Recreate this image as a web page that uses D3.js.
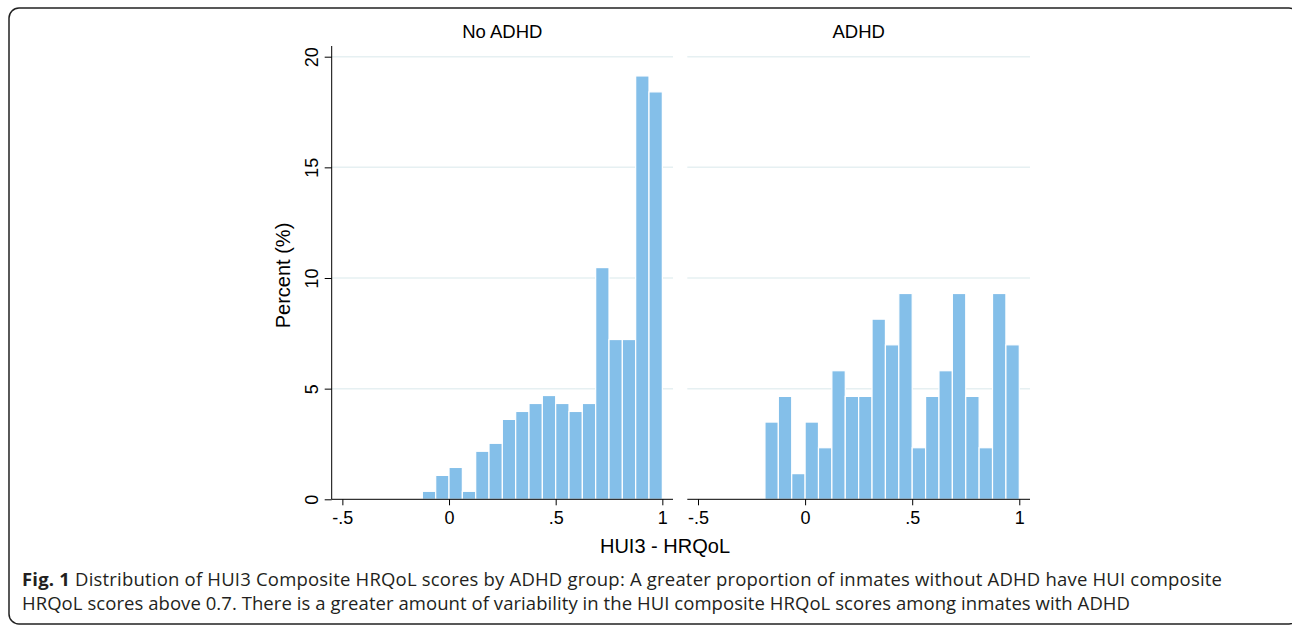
<!DOCTYPE html>
<html>
<head>
<meta charset="utf-8">
<script src="https://cdn.jsdelivr.net/npm/d3@7"></script>
<style>
  body { margin: 0; background: #fff; }
  svg { display: block; }
</style>
</head>
<body>
<div id="canvas"></div>
<script>
// panels and bins (left edge of each bin, width 0.0625)
var panels = ["No ADHD", "ADHD"];
var noAdhdBins = [-0.125, -0.0625, 0, 0.0625, 0.125, 0.1875, 0.25, 0.3125, 0.375,
                  0.4375, 0.5, 0.5625, 0.625, 0.6875, 0.75, 0.8125, 0.875, 0.9375];
var noAdhdPct = [0.36, 1.08, 1.44, 0.36, 2.17, 2.53, 3.61, 3.97, 4.33,
                 4.69, 4.33, 3.97, 4.33, 10.47, 7.22, 7.22, 19.13, 18.41];
var adhdBins = [-0.1875, -0.125, -0.0625, 0, 0.0625, 0.125, 0.1875, 0.25, 0.3125, 0.375,
                0.4375, 0.5, 0.5625, 0.625, 0.6875, 0.75, 0.8125, 0.875, 0.9375];
var adhdPct = [3.49, 4.65, 1.16, 3.49, 2.33, 5.81, 4.65, 4.65, 8.14, 6.98,
               9.30, 2.33, 4.65, 5.81, 9.30, 4.65, 2.33, 9.30, 6.98];
var binWidth = 0.0625;

var xTicks = [-0.5, 0, 0.5, 1];
var xTickLabels = ["-.5", "0", ".5", "1"];
var yTicks = [0, 5, 10, 15, 20];

var captionBold = "Fig. 1";
var captionLine1 = " Distribution of HUI3 Composite HRQoL scores by ADHD group: A greater proportion of inmates without ADHD have HUI composite";
var captionLine2 = "HRQoL scores above 0.7. There is a greater amount of variability in the HUI composite HRQoL scores among inmates with ADHD";

var W = 1292, H = 626;
var barColor = "#84bfe9", gridColor = "#e6f0f2";
var axisFont = "'Liberation Sans', Arial, Helvetica, sans-serif";

var svg = d3.select("#canvas").append("svg")
  .attr("width", W)
  .attr("height", H);

// outer frame
svg.append("rect")
  .attr("x", 9).attr("y", 8)
  .attr("width", 1290).attr("height", 616)
  .attr("rx", 10).attr("ry", 10)
  .attr("fill", "none")
  .attr("stroke", "#222")
  .attr("stroke-width", 1.5);

var y = d3.scaleLinear()
  .domain([0, 20])
  .range([499.3, 56.7]);

var panelRanges = [[331.7, 673], [687.3, 1030]];
var data = [
  { bins: noAdhdBins, pct: noAdhdPct },
  { bins: adhdBins, pct: adhdPct }
];

panels.forEach(function(name, i) {
  var x = d3.scaleLinear()
    .domain([-0.55, 1.05])
    .range(panelRanges[i]);

  var g = svg.append("g");

  // gridlines
  g.selectAll("line.grid")
    .data(yTicks.filter(function(d) { return d > 0; }))
    .enter().append("line")
    .attr("class", "grid")
    .attr("x1", x.range()[0]).attr("x2", x.range()[1])
    .attr("y1", y).attr("y2", y)
    .attr("stroke", gridColor)
    .attr("stroke-width", 1.5);

  // bars
  var d = data[i];
  g.selectAll("rect.bar")
    .data(d.bins)
    .enter().append("rect")
    .attr("class", "bar")
    .attr("x", function(b) { return x(b); })
    .attr("width", function(b) { return x(b + binWidth) - x(b); })
    .attr("y", function(b, j) { return y(d.pct[j]); })
    .attr("height", function(b, j) { return y(0) - y(d.pct[j]); })
    .attr("fill", barColor)
    .attr("stroke", "#fff")
    .attr("stroke-width", 1.2);

  // x axis
  var xAxis = d3.axisBottom(x)
    .tickValues(xTicks)
    .tickSize(6)
    .tickPadding(3)
    .tickFormat(function(t, k) { return xTickLabels[k]; });

  var gX = g.append("g")
    .attr("transform", "translate(0," + y(0) + ")")
    .call(xAxis);
  gX.attr("font-size", null).attr("font-family", null);
  gX.select(".domain").attr("d", "M" + x.range()[0] + ",0H" + x.range()[1]);
  gX.selectAll("text")
    .attr("dy", "0.9em")
    .style("font-family", axisFont)
    .style("font-size", "18px")
    .attr("fill", "#000");
  gX.selectAll("line, path").attr("stroke", "#000");

  // panel title
  svg.append("text")
    .attr("x", (x.range()[0] + x.range()[1]) / 2)
    .attr("y", 38.3)
    .attr("text-anchor", "middle")
    .style("font-family", axisFont)
    .style("font-size", "18.5px")
    .text(name);

  if (i === 0) {
    var yAxis = d3.axisLeft(y)
      .tickValues(yTicks)
      .tickSize(7);
    var gY = svg.append("g")
      .attr("transform", "translate(" + x.range()[0] + ",0)")
      .call(yAxis);
    gY.attr("font-size", null).attr("font-family", null);
    gY.select(".domain").attr("d", "M0,46V" + y(0));
    gY.selectAll("line, path").attr("stroke", "#000");
    gY.selectAll("text")
      .attr("x", null)
      .attr("dy", null)
      .attr("text-anchor", "middle")
      .attr("transform", "translate(-14,0) rotate(-90)")
      .style("font-family", axisFont)
      .style("font-size", "18px")
      .attr("fill", "#000");
  }
});

// axis titles
svg.append("text")
  .attr("transform", "translate(290," + 275.5 + ") rotate(-90)")
  .attr("text-anchor", "middle")
  .style("font-family", axisFont)
  .style("font-size", "20px")
  .text("Percent (%)");

svg.append("text")
  .attr("x", 665)
  .attr("y", 553.3)
  .attr("text-anchor", "middle")
  .style("font-family", axisFont)
  .style("font-size", "20px")
  .text("HUI3 - HRQoL");

// caption
var capFont = "'Open Sans', 'Noto Sans', sans-serif";
var cap1 = svg.append("text")
  .attr("x", 22).attr("y", 586)
  .attr("textLength", 1200)
  .style("font-family", capFont)
  .style("font-size", "18.5px")
  .attr("fill", "#231f20");
cap1.append("tspan").attr("font-weight", "bold").text(captionBold);
cap1.append("tspan").text(captionLine1);

svg.append("text")
  .attr("x", 22).attr("y", 610)
  .attr("textLength", 1108)
  .style("font-family", capFont)
  .style("font-size", "18.5px")
  .attr("fill", "#231f20")
  .text(captionLine2);
</script>
</body>
</html>
